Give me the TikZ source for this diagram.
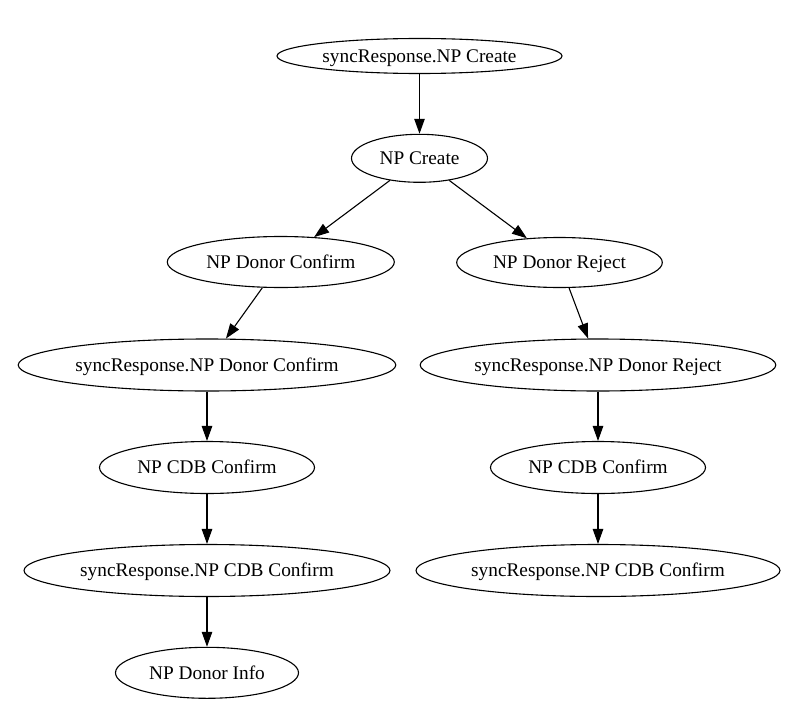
\documentclass[tikz,border=0pt]{standalone}
\usepackage{fontspec}
\setmainfont{Liberation Serif}
\usetikzlibrary{arrows.meta,shapes.geometric}
\begin{document}
\begin{tikzpicture}[x=1pt,y=-1pt,
  st/.style={ellipse,draw,line width=1.1pt,inner sep=0pt,
    font=\fontsize{19.3}{23}\selectfont,text height=15pt,text depth=2.2pt},
  arr/.style={line width=1.1pt,-{Triangle[length=15pt,width=10.5pt]}}]
\useasboundingbox (0,0) rectangle (808,701);
\node[st,minimum width=285pt,minimum height=35pt] (a) at (419.5,56) {syncResponse.NP Create};
\node[st,minimum width=136pt,minimum height=48pt] (b) at (419.5,158.3) {NP Create};
\node[st,minimum width=227pt,minimum height=51pt] (c) at (280.8,262) {NP Donor Confirm};
\node[st,minimum width=205.6pt,minimum height=50pt] (d) at (559.5,262.5) {NP Donor Reject};
\node[st,minimum width=377.6pt,minimum height=52pt] (e) at (207,365) {syncResponse.NP Donor Confirm};
\node[st,minimum width=355.6pt,minimum height=52pt] (f) at (598,365) {syncResponse.NP Donor Reject};
\node[st,minimum width=215pt,minimum height=52pt] (g) at (207,467.5) {NP CDB Confirm};
\node[st,minimum width=215pt,minimum height=52pt] (h) at (598,467.5) {NP CDB Confirm};
\node[st,minimum width=366pt,minimum height=52pt] (i) at (207,570.5) {syncResponse.NP CDB Confirm};
\node[st,minimum width=364pt,minimum height=52pt] (j) at (598,570.5) {syncResponse.NP CDB Confirm};
\node[st,minimum width=183pt,minimum height=51pt] (k) at (207,672.8) {NP Donor Info};
\draw[arr] (a) -- (b);
\draw[arr] (b) -- (c);
\draw[arr] (b) -- (d);
\draw[arr] (c) -- (e);
\draw[arr] (d) -- (f);
\draw[arr] (e) -- (g);
\draw[arr] (f) -- (h);
\draw[arr] (g) -- (i);
\draw[arr] (h) -- (j);
\draw[arr] (i) -- (k);
\end{tikzpicture}
\end{document}
